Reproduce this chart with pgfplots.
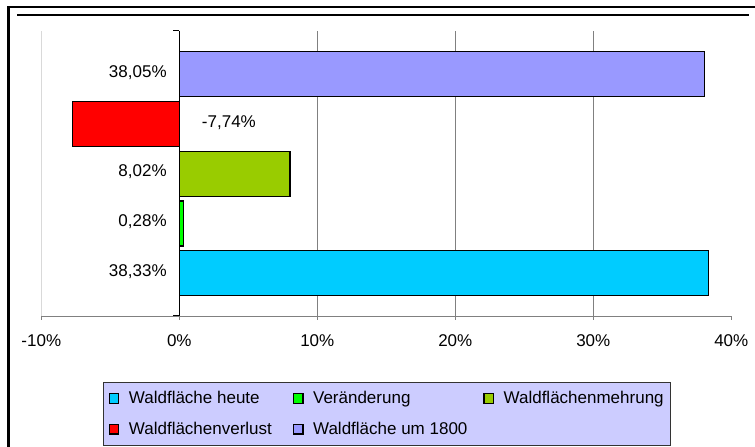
\documentclass[border=0pt]{standalone}
\usepackage{fontspec}
\setmainfont{Liberation Sans}
\usepackage{pgfplots}
\pgfplotsset{compat=1.18}

\definecolor{cHeute}{HTML}{00CCFF}
\definecolor{cVer}{HTML}{00FF00}
\definecolor{cMehr}{HTML}{99CC00}
\definecolor{cVerl}{HTML}{FF0000}
\definecolor{cAlt}{HTML}{9999FF}
\definecolor{legfill}{HTML}{CCCCFF}

\pgfplotsset{
  hbar/.style={xbar, bar shift=0pt, bar width=45pt, draw=black, line width=1.2pt},
}

\begin{document}
\fontsize{17}{20}\selectfont
\begin{tikzpicture}
\useasboundingbox (0pt,0pt) rectangle (755pt,447pt);
\begin{scope}
  \clip (0pt,0pt) rectangle (755pt,447pt);
  \draw[line width=2.4pt] (8.5pt,-10pt) -- (8.5pt,440pt) -- (770pt,440pt);
  \draw[line width=2pt] (17pt,432pt) -- (749pt,432pt);
\end{scope}
\begin{axis}[
  at={(41.3pt,131pt)}, anchor=south west,
  scale only axis, width=690pt, height=285pt,
  xmin=-10, xmax=40, ymin=0.143, ymax=5.863,
  axis x line*=bottom, axis y line*=left,
  x axis line style={draw=gray, line width=0.8pt},
  y axis line style={draw=black!15, line width=0.8pt},
  xtick={0,10,20,30}, xticklabels={0\%,10\%,20\%,30\%},
  extra x ticks={-10,40}, extra x tick labels={-10\%,40\%},
  extra x tick style={grid=none},
  xmajorgrids, major grid style={draw=gray, line width=0.8pt},
  ytick=\empty,
  tick align=outside, major tick length=4pt,
  tick style={draw=gray, line width=0.8pt},
  xticklabel style={yshift=-9pt},
  legend columns=3,
  legend cell align=left,
  legend style={at={(axis description cs:0.0899,-0.232)}, anchor=north west,
    fill=legfill, draw=black!80, line width=0.8pt,
    inner xsep=5pt, inner ysep=6.5pt, row sep=12pt,
    /tikz/column 1/.style={column sep=7.5pt},
    /tikz/column 2/.style={column sep=19pt},
    /tikz/column 3/.style={column sep=7.5pt},
    /tikz/column 4/.style={column sep=14pt},
    /tikz/column 5/.style={column sep=7.5pt}},
  legend image code/.code={\draw[#1] (0pt,-4.75pt) rectangle (9.5pt,4.75pt);},
]
\addplot[hbar, fill=cHeute] coordinates {(38.33,1)};
\addlegendentry{Waldfläche heute}
\addplot[hbar, fill=cVer] coordinates {(0.28,2)};
\addlegendentry{Veränderung}
\addplot[hbar, fill=cMehr] coordinates {(8.02,3)};
\addlegendentry{Waldflächenmehrung}
\addplot[hbar, fill=cVerl] coordinates {(-7.74,4)};
\addlegendentry{Waldflächenverlust}
\addplot[hbar, fill=cAlt] coordinates {(38.05,5)};
\addlegendentry{Waldfläche um 1800}

\addplot[draw=none, forget plot, point meta=explicit,
  nodes near coords={\pgfmathprintnumber[use comma,fixed,fixed zerofill,precision=2,assume math mode=true]{\pgfplotspointmeta}\%},
  nodes near coords style={anchor=east, xshift=-6.8pt, yshift=1.5pt, text=black}]
  coordinates {(0,5) [38.05] (0,3) [8.02] (0,2) [0.28] (0,1) [38.33]};
\addplot[draw=none, forget plot, point meta=explicit,
  nodes near coords={\pgfmathprintnumber[use comma,fixed,fixed zerofill,precision=2,assume math mode=true]{\pgfplotspointmeta}\%},
  nodes near coords style={anchor=west, xshift=16.8pt, yshift=1.5pt, text=black}]
  coordinates {(0,4) [-7.74]};

\draw[black, line width=1pt] (axis cs:0,0.143) -- (axis cs:0,5.863);
\draw[black, line width=1pt] (axis cs:0,5.863) -- ++(-6pt,0pt);
\draw[black, line width=1pt] (axis cs:0,0.143) -- ++(-6pt,0pt);
\end{axis}
\end{tikzpicture}
\end{document}
